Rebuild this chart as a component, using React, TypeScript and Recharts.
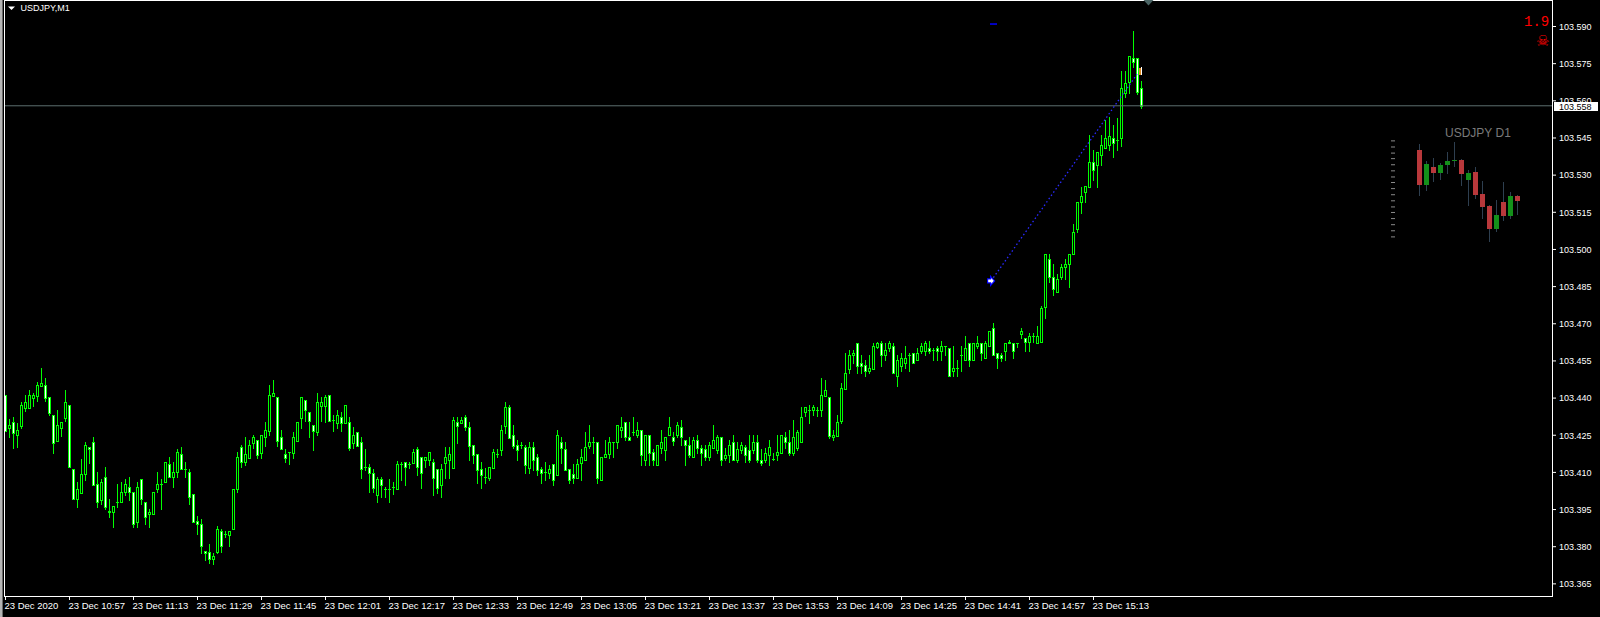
import React from 'react';
import { ComposedChart, Bar, XAxis, YAxis, ReferenceLine, ReferenceDot } from 'recharts';

// USDJPY M1, 23 Dec 2020, one bar per minute starting 10:41
const opens = [
  103.4412, 103.4281, 103.4303, 103.4250, 103.4287, 103.4361, 103.4361, 103.4402, 103.4410, 103.4450,
  103.4453, 103.4403, 103.4332, 103.4228, 103.4281, 103.4321, 103.4372, 103.4114, 103.3991, 103.4018,
  103.4092, 103.4201, 103.4221, 103.4053, 103.3989, 103.4080, 103.3946, 103.3942, 103.3982, 103.3982,
  103.4020, 103.4040, 103.4020, 103.3901, 103.4073, 103.3982, 103.3931, 103.3931, 103.4032, 103.4053,
  103.4060, 103.4134, 103.4080, 103.4100, 103.4174, 103.4114, 103.4100, 103.4013, 103.3904, 103.3892,
  103.3783, 103.3780, 103.3752, 103.3780, 103.3864, 103.3852, 103.3848, 103.3871, 103.4032, 103.4202,
  103.4140, 103.4160, 103.4220, 103.4231, 103.4180, 103.4241, 103.4269, 103.4410, 103.4403, 103.4242,
  103.4173, 103.4181, 103.4180, 103.4228, 103.4321, 103.4393, 103.4343, 103.4290, 103.4262, 103.4370,
  103.4370, 103.4413, 103.4312, 103.4301, 103.4323, 103.4301, 103.4302, 103.4220, 103.4262, 103.4222,
  103.4120, 103.4121, 103.4099, 103.4009, 103.4072, 103.4032, 103.4032, 103.4043, 103.4032, 103.4134,
  103.4141, 103.4133, 103.4139, 103.4195, 103.4161, 103.4150, 103.4150, 103.4141, 103.4112, 103.4049,
  103.4139, 103.4150, 103.4119, 103.4302, 103.4301, 103.4322, 103.4282, 103.4211, 103.4174, 103.4114,
  103.4080, 103.4079, 103.4119, 103.4174, 103.4191, 103.4289, 103.4363, 103.4251, 103.4211, 103.4211,
  103.4201, 103.4119, 103.4201, 103.4161, 103.4112, 103.4100, 103.4099, 103.4133, 103.4090, 103.4221,
  103.4195, 103.4112, 103.4094, 103.4079, 103.4139, 103.4150, 103.4208, 103.4221, 103.4221, 103.4069,
  103.4161, 103.4173, 103.4221, 103.4221, 103.4271, 103.4302, 103.4242, 103.4262, 103.4251, 103.4271,
  103.4150, 103.4251, 103.4181, 103.4130, 103.4200, 103.4191, 103.4251, 103.4242, 103.4251, 103.4282,
  103.4231, 103.4211, 103.4161, 103.4231, 103.4200, 103.4195, 103.4161, 103.4200, 103.4191, 103.4242,
  103.4160, 103.4170, 103.4221, 103.4150, 103.4191, 103.4201, 103.4191, 103.4191, 103.4221, 103.4150,
  103.4150, 103.4170, 103.4154, 103.4170, 103.4180, 103.4242, 103.4221, 103.4180, 103.4200, 103.4221,
  103.4342, 103.4352, 103.4352, 103.4352, 103.4352, 103.4409, 103.4404, 103.4241, 103.4248, 103.4309,
  103.4437, 103.4518, 103.4572, 103.4621, 103.4541, 103.4534, 103.4511, 103.4518, 103.4608, 103.4621,
  103.4572, 103.4601, 103.4611, 103.4491, 103.4531, 103.4541, 103.4574, 103.4581, 103.4552, 103.4592,
  103.4592, 103.4601, 103.4595, 103.4601, 103.4592, 103.4611, 103.4601, 103.4511, 103.4521, 103.4574,
  103.4552, 103.4621, 103.4552, 103.4611, 103.4621, 103.4561, 103.4611, 103.4682, 103.4581, 103.4574,
  103.4592, 103.4621, 103.4621, 103.4621, 103.4659, 103.4641, 103.4628, 103.4651, 103.4621, 103.4628,
  103.4769, 103.4960, 103.4890, 103.4830, 103.4890, 103.4931, 103.4940, 103.4980, 103.5081, 103.5190,
  103.5231, 103.5251, 103.5352, 103.5341, 103.5381, 103.5408, 103.5422, 103.5448, 103.5442, 103.5448,
  103.5630, 103.5677, 103.5771, 103.5771, 103.5650,
];

const highs = [
  103.4412, 103.4314, 103.4325, 103.4301, 103.4385, 103.4412, 103.4433, 103.4422, 103.4464, 103.4523,
  103.4482, 103.4403, 103.4332, 103.4352, 103.4302, 103.4433, 103.4372, 103.4114, 103.4063, 103.4154,
  103.4224, 103.4201, 103.4244, 103.4103, 103.4073, 103.4123, 103.3993, 103.3964, 103.4053, 103.4063,
  103.4073, 103.4083, 103.4020, 103.4060, 103.4073, 103.3982, 103.3951, 103.4020, 103.4103, 103.4073,
  103.4141, 103.4164, 103.4143, 103.4194, 103.4204, 103.4143, 103.4114, 103.4013, 103.3925, 103.3911,
  103.3783, 103.3811, 103.3774, 103.3884, 103.3872, 103.3864, 103.3864, 103.4032, 103.4181, 103.4211,
  103.4242, 103.4231, 103.4251, 103.4231, 103.4251, 103.4304, 103.4453, 103.4473, 103.4403, 103.4272,
  103.4193, 103.4181, 103.4262, 103.4302, 103.4403, 103.4393, 103.4343, 103.4290, 103.4421, 103.4403,
  103.4413, 103.4413, 103.4332, 103.4352, 103.4345, 103.4372, 103.4323, 103.4282, 103.4262, 103.4242,
  103.4193, 103.4133, 103.4113, 103.4080, 103.4080, 103.4043, 103.4074, 103.4063, 103.4144, 103.4143,
  103.4141, 103.4143, 103.4195, 103.4204, 103.4161, 103.4161, 103.4181, 103.4154, 103.4112, 103.4133,
  103.4201, 103.4201, 103.4322, 103.4322, 103.4322, 103.4332, 103.4302, 103.4211, 103.4174, 103.4141,
  103.4117, 103.4121, 103.4195, 103.4195, 103.4291, 103.4383, 103.4372, 103.4291, 103.4231, 103.4222,
  103.4211, 103.4221, 103.4221, 103.4174, 103.4121, 103.4141, 103.4130, 103.4133, 103.4271, 103.4242,
  103.4221, 103.4112, 103.4134, 103.4154, 103.4195, 103.4265, 103.4291, 103.4242, 103.4221, 103.4161,
  103.4231, 103.4242, 103.4221, 103.4291, 103.4322, 103.4302, 103.4302, 103.4322, 103.4302, 103.4271,
  103.4251, 103.4251, 103.4195, 103.4211, 103.4271, 103.4242, 103.4322, 103.4262, 103.4302, 103.4312,
  103.4231, 103.4242, 103.4242, 103.4251, 103.4211, 103.4211, 103.4221, 103.4291, 103.4251, 103.4242,
  103.4200, 103.4231, 103.4251, 103.4221, 103.4221, 103.4211, 103.4251, 103.4251, 103.4251, 103.4195,
  103.4200, 103.4231, 103.4180, 103.4251, 103.4251, 103.4262, 103.4271, 103.4312, 103.4271, 103.4363,
  103.4363, 103.4373, 103.4373, 103.4363, 103.4480, 103.4474, 103.4404, 103.4272, 103.4332, 103.4460,
  103.4584, 103.4595, 103.4595, 103.4621, 103.4574, 103.4554, 103.4574, 103.4621, 103.4625, 103.4632,
  103.4624, 103.4631, 103.4621, 103.4574, 103.4584, 103.4611, 103.4584, 103.4581, 103.4601, 103.4621,
  103.4631, 103.4631, 103.4604, 103.4611, 103.4631, 103.4611, 103.4601, 103.4611, 103.4554, 103.4611,
  103.4651, 103.4621, 103.4621, 103.4651, 103.4621, 103.4631, 103.4671, 103.4702, 103.4581, 103.4580,
  103.4621, 103.4635, 103.4621, 103.4621, 103.4682, 103.4641, 103.4661, 103.4661, 103.4691, 103.4772,
  103.4980, 103.4980, 103.4940, 103.4901, 103.4940, 103.4960, 103.4980, 103.5101, 103.5190, 103.5251,
  103.5257, 103.5462, 103.5401, 103.5392, 103.5462, 103.5522, 103.5536, 103.5502, 103.5532, 103.5720,
  103.5720, 103.5781, 103.5882, 103.5771, 103.5680,
];

const lows = [
  103.4268, 103.4242, 103.4200, 103.4204, 103.4281, 103.4348, 103.4361, 103.4368, 103.4390, 103.4450,
  103.4390, 103.4330, 103.4180, 103.4228, 103.4248, 103.4307, 103.4120, 103.3991, 103.3962, 103.4018,
  103.4069, 103.4139, 103.4051, 103.3962, 103.3971, 103.3951, 103.3921, 103.3881, 103.3962, 103.3982,
  103.4009, 103.3989, 103.3881, 103.3881, 103.3971, 103.3890, 103.3881, 103.3931, 103.4022, 103.3951,
  103.4060, 103.4080, 103.4040, 103.4080, 103.4114, 103.4080, 103.3971, 103.3901, 103.3850, 103.3774,
  103.3745, 103.3735, 103.3732, 103.3774, 103.3780, 103.3841, 103.3801, 103.3871, 103.4020, 103.4120,
  103.4130, 103.4160, 103.4200, 103.4160, 103.4160, 103.4208, 103.4251, 103.4410, 103.4208, 103.4193,
  103.4140, 103.4133, 103.4160, 103.4228, 103.4281, 103.4308, 103.4241, 103.4191, 103.4251, 103.4308,
  103.4302, 103.4309, 103.4269, 103.4281, 103.4269, 103.4301, 103.4191, 103.4200, 103.4208, 103.4079,
  103.4110, 103.4019, 103.4019, 103.3982, 103.4002, 103.4000, 103.3982, 103.4012, 103.4032, 103.4069,
  103.4049, 103.4117, 103.4139, 103.4090, 103.4039, 103.4121, 103.4130, 103.4009, 103.4018, 103.4002,
  103.4079, 103.4079, 103.4119, 103.4220, 103.4301, 103.4271, 103.4150, 103.4139, 103.4059, 103.4039,
  103.4059, 103.4069, 103.4119, 103.4161, 103.4170, 103.4260, 103.4240, 103.4200, 103.4150, 103.4200,
  103.4099, 103.4099, 103.4110, 103.4090, 103.4059, 103.4070, 103.4079, 103.4049, 103.4090, 103.4139,
  103.4110, 103.4059, 103.4059, 103.4079, 103.4069, 103.4150, 103.4200, 103.4180, 103.4059, 103.4069,
  103.4161, 103.4160, 103.4161, 103.4200, 103.4242, 103.4231, 103.4231, 103.4251, 103.4242, 103.4130,
  103.4130, 103.4130, 103.4130, 103.4130, 103.4180, 103.4150, 103.4251, 103.4211, 103.4242, 103.4211,
  103.4130, 103.4161, 103.4161, 103.4180, 103.4130, 103.4150, 103.4150, 103.4200, 103.4180, 103.4130,
  103.4150, 103.4140, 103.4150, 103.4140, 103.4180, 103.4140, 103.4140, 103.4180, 103.4140, 103.4130,
  103.4140, 103.4130, 103.4150, 103.4150, 103.4180, 103.4200, 103.4170, 103.4170, 103.4191, 103.4221,
  103.4328, 103.4301, 103.4332, 103.4328, 103.4328, 103.4409, 103.4238, 103.4229, 103.4248, 103.4301,
  103.4437, 103.4500, 103.4541, 103.4500, 103.4500, 103.4491, 103.4500, 103.4518, 103.4601, 103.4531,
  103.4554, 103.4592, 103.4500, 103.4449, 103.4511, 103.4521, 103.4511, 103.4541, 103.4552, 103.4581,
  103.4572, 103.4581, 103.4552, 103.4552, 103.4552, 103.4572, 103.4491, 103.4491, 103.4491, 103.4511,
  103.4552, 103.4531, 103.4552, 103.4601, 103.4552, 103.4561, 103.4611, 103.4572, 103.4521, 103.4550,
  103.4554, 103.4621, 103.4561, 103.4608, 103.4641, 103.4592, 103.4592, 103.4628, 103.4621, 103.4628,
  103.4722, 103.4870, 103.4816, 103.4830, 103.4880, 103.4879, 103.4850, 103.4980, 103.5069, 103.5149,
  103.5190, 103.5251, 103.5280, 103.5251, 103.5341, 103.5408, 103.5401, 103.5372, 103.5401, 103.5419,
  103.5617, 103.5630, 103.5738, 103.5627, 103.5570,
];

const closes = [
  103.4268, 103.4291, 103.4260, 103.4271, 103.4372, 103.4383, 103.4412, 103.4412, 103.4453, 103.4461,
  103.4402, 103.4341, 103.4220, 103.4291, 103.4302, 103.4383, 103.4120, 103.3991, 103.4032, 103.4094,
  103.4211, 103.4193, 103.4051, 103.3982, 103.4060, 103.3962, 103.3940, 103.3964, 103.3982, 103.4020,
  103.4053, 103.4020, 103.3890, 103.4040, 103.3991, 103.3921, 103.3942, 103.4020, 103.4053, 103.4053,
  103.4141, 103.4080, 103.4100, 103.4181, 103.4114, 103.4114, 103.4002, 103.3901, 103.3890, 103.3801,
  103.3774, 103.3750, 103.3763, 103.3871, 103.3801, 103.3852, 103.3864, 103.4032, 103.4161, 103.4140,
  103.4175, 103.4211, 103.4242, 103.4171, 103.4251, 103.4272, 103.4413, 103.4419, 103.4228, 103.4193,
  103.4160, 103.4181, 103.4242, 103.4302, 103.4403, 103.4350, 103.4309, 103.4269, 103.4383, 103.4383,
  103.4403, 103.4309, 103.4312, 103.4332, 103.4301, 103.4372, 103.4200, 103.4251, 103.4208, 103.4113,
  103.4120, 103.4099, 103.4039, 103.4072, 103.4050, 103.4032, 103.4032, 103.4043, 103.4134, 103.4134,
  103.4121, 103.4133, 103.4181, 103.4121, 103.4099, 103.4161, 103.4181, 103.4079, 103.4039, 103.4112,
  103.4161, 103.4173, 103.4312, 103.4289, 103.4312, 103.4282, 103.4208, 103.4170, 103.4110, 103.4090,
  103.4080, 103.4121, 103.4181, 103.4174, 103.4271, 103.4363, 103.4240, 103.4208, 103.4191, 103.4211,
  103.4130, 103.4201, 103.4150, 103.4110, 103.4099, 103.4100, 103.4114, 103.4069, 103.4251, 103.4200,
  103.4110, 103.4069, 103.4079, 103.4134, 103.4161, 103.4201, 103.4221, 103.4221, 103.4079, 103.4161,
  103.4174, 103.4221, 103.4221, 103.4291, 103.4282, 103.4242, 103.4231, 103.4262, 103.4271, 103.4170,
  103.4251, 103.4180, 103.4150, 103.4211, 103.4221, 103.4242, 103.4282, 103.4228, 103.4291, 103.4242,
  103.4211, 103.4170, 103.4231, 103.4200, 103.4180, 103.4161, 103.4211, 103.4231, 103.4242, 103.4150,
  103.4170, 103.4211, 103.4150, 103.4195, 103.4211, 103.4170, 103.4150, 103.4221, 103.4150, 103.4139,
  103.4180, 103.4201, 103.4154, 103.4181, 103.4251, 103.4221, 103.4180, 103.4242, 103.4262, 103.4323,
  103.4363, 103.4352, 103.4363, 103.4352, 103.4413, 103.4433, 103.4248, 103.4252, 103.4303, 103.4440,
  103.4500, 103.4574, 103.4581, 103.4531, 103.4531, 103.4511, 103.4521, 103.4611, 103.4621, 103.4572,
  103.4595, 103.4621, 103.4500, 103.4554, 103.4561, 103.4561, 103.4574, 103.4541, 103.4581, 103.4611,
  103.4621, 103.4592, 103.4595, 103.4592, 103.4611, 103.4611, 103.4491, 103.4521, 103.4521, 103.4574,
  103.4601, 103.4552, 103.4621, 103.4621, 103.4581, 103.4621, 103.4671, 103.4574, 103.4561, 103.4561,
  103.4621, 103.4628, 103.4592, 103.4621, 103.4671, 103.4628, 103.4651, 103.4651, 103.4651, 103.4762,
  103.4980, 103.4890, 103.4839, 103.4879, 103.4931, 103.4940, 103.4980, 103.5069, 103.5190, 103.5217,
  103.5257, 103.5352, 103.5321, 103.5392, 103.5422, 103.5448, 103.5459, 103.5428, 103.5442, 103.5650,
  103.5670, 103.5781, 103.5758, 103.5637, 103.5580,
];

const timeTicks = [0, 16, 32, 48, 64, 80, 96, 112, 128, 144, 160, 176, 192, 208, 224, 240, 256, 272];
const timeLabels = [
  '23 Dec 2020', '23 Dec 10:57', '23 Dec 11:13', '23 Dec 11:29', '23 Dec 11:45', '23 Dec 12:01',
  '23 Dec 12:17', '23 Dec 12:33', '23 Dec 12:49', '23 Dec 13:05', '23 Dec 13:21', '23 Dec 13:37',
  '23 Dec 13:53', '23 Dec 14:09', '23 Dec 14:25', '23 Dec 14:41', '23 Dec 14:57', '23 Dec 15:13',
];
const priceTicks = [
  103.365, 103.38, 103.395, 103.41, 103.425, 103.44, 103.455, 103.47,
  103.485, 103.5, 103.515, 103.53, 103.545, 103.56, 103.575, 103.59,
];
const bidPrice = 103.558;

// trade objects drawn on the chart
const tradeFrom = { bar: 246.4, price: 103.4873 };
const tradeTo = { bar: 282.9, price: 103.5708 };
const stopMark = { bar: 247, price: 103.591 };
const closeMark = { bar: 283.5, price: 103.5719 };

// USDJPY D1 inset
const d1Opens = [104.62, 103.98, 104.31, 104.21, 104.34, 104.41, 104.44, 104.07, 104.22, 103.83, 103.61, 103.2, 103.67, 103.43, 103.79];
const d1Highs = [104.73, 104.41, 104.48, 104.38, 104.58, 104.76, 104.45, 104.26, 104.31, 104.06, 103.62, 103.72, 104.04, 103.86, 103.8];
const d1Lows = [103.79, 103.87, 104.04, 104.08, 104.19, 104.31, 103.96, 103.61, 103.73, 103.37, 102.95, 103.13, 103.34, 103.38, 103.45];
const d1Closes = [103.98, 104.37, 104.21, 104.35, 104.41, 104.44, 104.19, 104.21, 103.8, 103.58, 103.19, 103.45, 103.42, 103.79, 103.69];
const d1ScaleTicks = [104.78, 104.67, 104.56, 104.46, 104.35, 104.24, 104.13, 104.03, 103.92, 103.81, 103.7, 103.59, 103.49, 103.38, 103.27, 103.16, 103.05];

const candles = opens.map((o, i) => ({
  i,
  o,
  h: highs[i],
  l: lows[i],
  c: closes[i],
  range: [lows[i], highs[i]],
}));

const d1Candles = d1Opens.map((o, i) => ({
  i,
  o,
  h: d1Highs[i],
  l: d1Lows[i],
  c: d1Closes[i],
  range: [d1Lows[i], d1Highs[i]],
}));

const LIME = '#00ff00';
const FONT = "'Liberation Sans', Arial, sans-serif";

const CandleShape = (props: any) => {
  const { x, y, width, height } = props;
  const p = props.payload ?? props;
  const cx = Math.round(x + width / 2 - 0.5) + 0.5;
  const top = Math.min(y, y + height);
  const span = Math.abs(height);
  const rng = p.h - p.l;
  const py = (v: number) => (rng > 0 ? top + ((p.h - v) / rng) * span : top);
  const yh = Math.round(py(p.h));
  const yl = Math.round(py(p.l));
  const yo = Math.round(py(p.o));
  const yc = Math.round(py(p.c));
  const bTop = Math.min(yo, yc);
  const bBot = Math.max(yo, yc);
  const bear = p.c < p.o;
  return (
    <g shapeRendering="crispEdges">
      <line x1={cx} x2={cx} y1={yh} y2={yl + 1} stroke={LIME} strokeWidth={1} />
      {bBot > bTop ? (
        <rect x={cx - 1} y={bTop + 0.5} width={2} height={bBot - bTop} fill={bear ? '#ffffff' : '#000000'} stroke={LIME} strokeWidth={1} />
      ) : (
        <line x1={cx - 1.5} x2={cx + 1.5} y1={bTop + 0.5} y2={bTop + 0.5} stroke={LIME} strokeWidth={1} />
      )}
    </g>
  );
};

const D1CandleShape = (props: any) => {
  const { x, y, width, height } = props;
  const p = props.payload ?? props;
  const cx = Math.round(x + width / 2 - 0.5) + 0.5;
  const top = Math.min(y, y + height);
  const span = Math.abs(height);
  const rng = p.h - p.l;
  const py = (v: number) => (rng > 0 ? top + ((p.h - v) / rng) * span : top);
  const yo = Math.round(py(p.o));
  const yc = Math.round(py(p.c));
  const bTop = Math.min(yo, yc);
  const bH = Math.max(Math.abs(yo - yc), 1);
  return (
    <g shapeRendering="crispEdges">
      <line x1={cx} x2={cx} y1={Math.round(py(p.h))} y2={Math.round(py(p.l))} stroke="#2e3f50" strokeWidth={1} />
      <rect x={cx - 2.5} y={bTop} width={5} height={bH} fill={p.c < p.o ? '#b8383b' : '#14901a'} />
    </g>
  );
};

const TimeTick = (props: any) => {
  const { x, payload } = props;
  const idx = timeTicks.indexOf(payload.value);
  return (
    <text x={x - 1} y={609.3} fill="#ffffff" fontSize={9.5} fontFamily={FONT} textAnchor="start">
      {timeLabels[idx]}
    </text>
  );
};

const PriceTick = (props: any) => {
  const { y, payload } = props;
  return (
    <text x={1559} y={y + 3.3} fill="#ffffff" fontSize={9} fontFamily={FONT} textAnchor="start">
      {Number(payload.value).toFixed(3)}
    </text>
  );
};

const BidLabel = (props: any) => {
  const vb = props.viewBox || {};
  const ly = Math.round(vb.y ?? 0);
  const right = (vb.x ?? 0) + (vb.width ?? 0);
  return (
    <g>
      <rect x={right + 2} y={ly - 4} width={44} height={9} fill="#ffffff" />
      <text x={right + 7} y={ly + 3.5} fill="#000000" fontSize={9} fontFamily={FONT}>
        {bidPrice.toFixed(3)}
      </text>
    </g>
  );
};

const TradeOpenMark = (props: any) => {
  const { cx, cy } = props;
  const pts = [
    [cx - 3.5, cy - 2], [cx - 0.5, cy - 2], [cx - 0.5, cy - 4.5],
    [cx + 3.5, cy], [cx - 0.5, cy + 4.5], [cx - 0.5, cy + 2], [cx - 3.5, cy + 2],
  ].map((q) => q.join(',')).join(' ');
  return <polygon points={pts} fill="#ffffff" stroke="#0000ff" strokeWidth={1.2} />;
};

const StopMark = (props: any) => (
  <line x1={props.cx - 3.5} x2={props.cx + 3.5} y1={props.cy} y2={props.cy} stroke="#0000ff" strokeWidth={1.5} />
);

const CloseMark = (props: any) => (
  <g shapeRendering="crispEdges">
    <rect x={props.cx - 1} y={props.cy - 3.5} width={2} height={7} fill="#e08a1e" />
    <rect x={props.cx + 1} y={props.cy - 4} width={1} height={8} fill="#ffffff" />
  </g>
);

export default function App() {
  return (
    <div style={{ position: 'absolute', left: 0, top: 0, width: 1600, height: 617, background: '#000000', overflow: 'hidden' }}>
      <ComposedChart width={1600} height={617} data={candles} margin={{ top: 1, right: 0, bottom: 0, left: 4 }}>
        <XAxis
          dataKey="i"
          type="number"
          domain={[-0.375, 386.625]}
          allowDataOverflow
          ticks={timeTicks}
          interval={0}
          height={21}
          axisLine={false}
          tickLine={{ stroke: '#ffffff' }}
          tickSize={4}
          tick={<TimeTick />}
        />
        <YAxis
          orientation="right"
          width={48}
          type="number"
          domain={[103.3601, 103.6003]}
          allowDataOverflow
          ticks={priceTicks}
          interval={0}
          axisLine={false}
          tickLine={{ stroke: '#ffffff' }}
          tickSize={4}
          tick={<PriceTick />}
        />
        <Bar dataKey="range" barSize={4} shape={<CandleShape />} isAnimationActive={false} />
        <ReferenceLine y={bidPrice} stroke="#5c6e6e" strokeWidth={1} label={<BidLabel />} />
        <ReferenceLine
          segment={[{ x: tradeFrom.bar, y: tradeFrom.price }, { x: tradeTo.bar, y: tradeTo.price }]}
          stroke="#2a2aff"
          strokeWidth={1.3}
          strokeDasharray="1.5 2.5"
          ifOverflow="visible"
        />
        <ReferenceDot x={tradeFrom.bar} y={tradeFrom.price} shape={<TradeOpenMark />} />
        <ReferenceDot x={stopMark.bar} y={stopMark.price} shape={<StopMark />} />
        <ReferenceDot x={closeMark.bar} y={closeMark.price} shape={<CloseMark />} />
      </ComposedChart>

      <div style={{ position: 'absolute', left: 1389, top: 137 }}>
        <ComposedChart width={132} height={111} data={d1Candles} margin={{ top: 0, right: 0, bottom: 0, left: 0 }}>
          <XAxis dataKey="i" type="number" domain={[-3.5, 14.5]} allowDataOverflow hide />
          <YAxis
            orientation="left"
            width={6}
            type="number"
            domain={[102.85, 104.85]}
            allowDataOverflow
            ticks={d1ScaleTicks}
            interval={0}
            axisLine={false}
            tickLine={{ stroke: '#8a8a8a' }}
            tickSize={4}
            tick={() => <g />}
          />
          <Bar dataKey="range" barSize={5} shape={<D1CandleShape />} isAnimationActive={false} />
        </ComposedChart>
      </div>

      <svg width={1600} height={617} style={{ position: 'absolute', left: 0, top: 0, pointerEvents: 'none' }}>
        <rect x={0} y={0} width={2} height={617} fill="#b4b4b4" />
        <rect x={2} y={0} width={1} height={617} fill="#6a6a6a" />
        <rect x={4.5} y={0.5} width={1548} height={596} fill="none" stroke="#ffffff" strokeWidth={1} />
        <polygon points="1143.5,0 1153.5,0 1148.5,5.5" fill="#4a6464" />
        <polygon points="8,6.5 15,6.5 11.5,10" fill="#ffffff" />
        <text x={20.5} y={11.2} fill="#ffffff" fontSize={9} fontFamily={FONT}>USDJPY,M1</text>
        <text x={1524} y={26} fill="#ff0000" fontSize={14} fontFamily="'Liberation Mono', monospace">1.9</text>
        <text x={1536} y={46} fill="#ff0000" fontSize={15} fontFamily="'DejaVu Sans', sans-serif">☠</text>
        <text x={1445} y={137.3} fill="#7a7a7a" fontSize={12} fontFamily={FONT}>USDJPY D1</text>
      </svg>
    </div>
  );
}
